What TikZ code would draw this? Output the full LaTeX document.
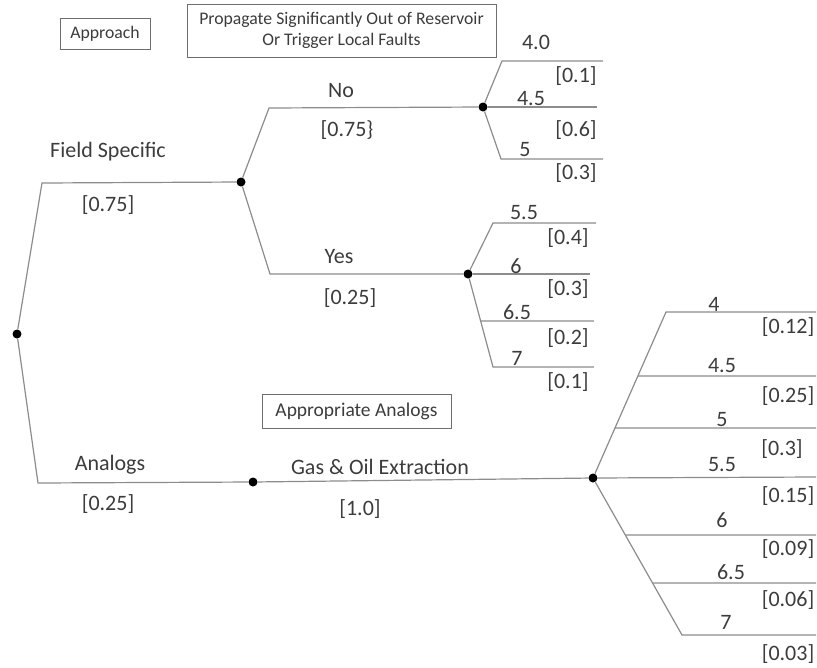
\documentclass[tikz,border=0pt]{standalone}
\usepackage{fontspec}
\setmainfont{Carlito}
\usepackage{tikz}
\usetikzlibrary{
  calc,
  positioning,
}
\tikzstyle{branch} = [
  line width=1.2pt,
  twiggray,
]
\definecolor{twiggray}{RGB}{140, 140, 140}
\definecolor{boxgray}{RGB}{110, 110, 110}
\definecolor{inkgray}{RGB}{60, 60, 60}

\begin{document}
\begin{tikzpicture}[
      x=1pt, y=-1pt,
      chance/.style={circle, fill=black, inner sep=0pt, minimum size=9pt},
      lbl/.style={anchor=base, inner sep=0pt, text=inkgray, font=\fontsize{22}{26}\selectfont},
      header/.style={draw=boxgray, line width=1pt, align=center, inner sep=0pt, text=inkgray, font=\fontsize{17.7}{21}\selectfont},
    ]
      \useasboundingbox (0,0) rectangle (817,667);
      % headers
      \node [header, minimum width=90pt, minimum height=31pt] (approach) at (105,33.5) {Approach};
      \node [header, minimum width=309pt, minimum height=53pt] (propagate) at (341.5,30.5) {Propagate Significantly Out of Reservoir\\Or Trigger Local Faults};
      \node [header, minimum width=189pt, minimum height=34pt, font=\fontsize{19.5}{23}\selectfont] (appropriate) at (356.5,411) {Appropriate Analogs};
      % chance nodes
      \node [chance] (root) at (17,334) {};
      \node [chance] (field) at (241,182) {};
      \node [chance] (analog) at (253,482) {};
      \node [chance] (no) at (483,107) {};
      \node [chance] (yes) at (468,274) {};
      \node [chance] (gas) at (593,478) {};
      % bends and leaf ends
      \coordinate (fieldBend) at (42,183);
      \coordinate (analogBend) at (38,483);
      \coordinate (noBend) at (269,108);
      \coordinate (yesBend) at (270,274);
      \coordinate (noA) at (502,61);   \coordinate (noAend) at (603,61);
      \coordinate (noBend2) at (597,107);
      \coordinate (noC) at (501,159);  \coordinate (noCend) at (603,159);
      \coordinate (yesA) at (493,223); \coordinate (yesAend) at (596,223);
      \coordinate (yesBend2) at (590,274);
      \coordinate (yesD) at (493,367); \coordinate (yesDend) at (594,367);
      \coordinate (yesC) at ($(yes)!0.505!(yesD)$); \coordinate (yesCend) at (594,321);
      \coordinate (gasA) at (666,312); \coordinate (gasAend) at (816,312);
      \coordinate (gasB) at ($(gas)!0.614!(gasA)$); \coordinate (gasBend) at (816,376);
      \coordinate (gasC) at ($(gas)!0.301!(gasA)$); \coordinate (gasCend) at (816,428);
      \coordinate (gasDend) at (816,477);
      \coordinate (gasG) at (682,635); \coordinate (gasGend) at (816,635);
      \coordinate (gasE) at ($(gas)!0.363!(gasG)$); \coordinate (gasEend) at (816,535);
      \coordinate (gasF) at ($(gas)!0.669!(gasG)$); \coordinate (gasFend) at (816,583);
      % branches
      \draw [branch] (root) -- (fieldBend) -- (field);
      \draw [branch] (root) -- (analogBend) -- (analog);
      \draw [branch] (field) -- (noBend) -- (no);
      \draw [branch] (field) -- (yesBend) -- (yes);
      \draw [branch] (analog) -- (gas);
      \draw [branch] (no) -- (noA) -- (noAend);
      \draw [branch] (no) -- (noBend2);
      \draw [branch] (no) -- (noC) -- (noCend);
      \draw [branch] (yes) -- (yesA) -- (yesAend);
      \draw [branch] (yes) -- (yesBend2);
      \draw [branch] (yes) -- (yesD) -- (yesDend);
      \draw [branch] (yesC) -- (yesCend);
      \draw [branch] (gas) -- (gasA) -- (gasAend);
      \draw [branch] (gasB) -- (gasBend);
      \draw [branch] (gasC) -- (gasCend);
      \draw [branch] (gas) -- (gasDend);
      \draw [branch] (gas) -- (gasG) -- (gasGend);
      \draw [branch] (gasE) -- (gasEend);
      \draw [branch] (gasF) -- (gasFend);
      % labels
      \node [lbl] (fieldName) at (108,157) {Field Specific};
      \node [lbl] (fieldProb) at (108,211) {[0.75]};
      \node [lbl] (analogName) at (110,470) {Analogs};
      \node [lbl] (analogProb) at (108,510) {[0.25]};
      \node [lbl] (noName) at (341,97) {No};
      \node [lbl] (noProb) at (347,136) {[0.75\}};
      \node [lbl] (yesName) at (339,263) {Yes};
      \node [lbl] (yesProb) at (350,304) {[0.25]};
      \node [lbl] (gasName) at (380,474) {Gas \& Oil Extraction};
      \node [lbl] (gasProb) at (360,515) {[1.0]};
      \node [lbl] (noAval) at (536,49) {4.0};  \node [lbl] (noAprob) at (576,82) {[0.1]};
      \node [lbl] (noBval) at (531,105) {4.5}; \node [lbl] (noBprob) at (576,136) {[0.6]};
      \node [lbl] (noCval) at (525,156) {5};   \node [lbl] (noCprob) at (576,179) {[0.3]};
      \node [lbl] (yesAval) at (524,219) {5.5}; \node [lbl] (yesAprob) at (568,244) {[0.4]};
      \node [lbl] (yesBval) at (516,273) {6};   \node [lbl] (yesBprob) at (568,295) {[0.3]};
      \node [lbl] (yesCval) at (517,319) {6.5}; \node [lbl] (yesCprob) at (568,344) {[0.2]};
      \node [lbl] (yesDval) at (517,365) {7};   \node [lbl] (yesDprob) at (568,388) {[0.1]};
      \node [lbl] (gasAval) at (714,311) {4};   \node [lbl] (gasAprob) at (788,333) {[0.12]};
      \node [lbl] (gasBval) at (722,372) {4.5}; \node [lbl] (gasBprob) at (788,402) {[0.25]};
      \node [lbl] (gasCval) at (722,426) {5};   \node [lbl] (gasCprob) at (782,455) {[0.3]};
      \node [lbl] (gasDval) at (722,471) {5.5}; \node [lbl] (gasDprob) at (788,502) {[0.15]};
      \node [lbl] (gasEval) at (722,527) {6};   \node [lbl] (gasEprob) at (788,555) {[0.09]};
      \node [lbl] (gasFval) at (731,579) {6.5}; \node [lbl] (gasFprob) at (788,606) {[0.06]};
      \node [lbl] (gasGval) at (726,629) {7};   \node [lbl] (gasGprob) at (788,660) {[0.03]};
    \end{tikzpicture}
\end{document}
